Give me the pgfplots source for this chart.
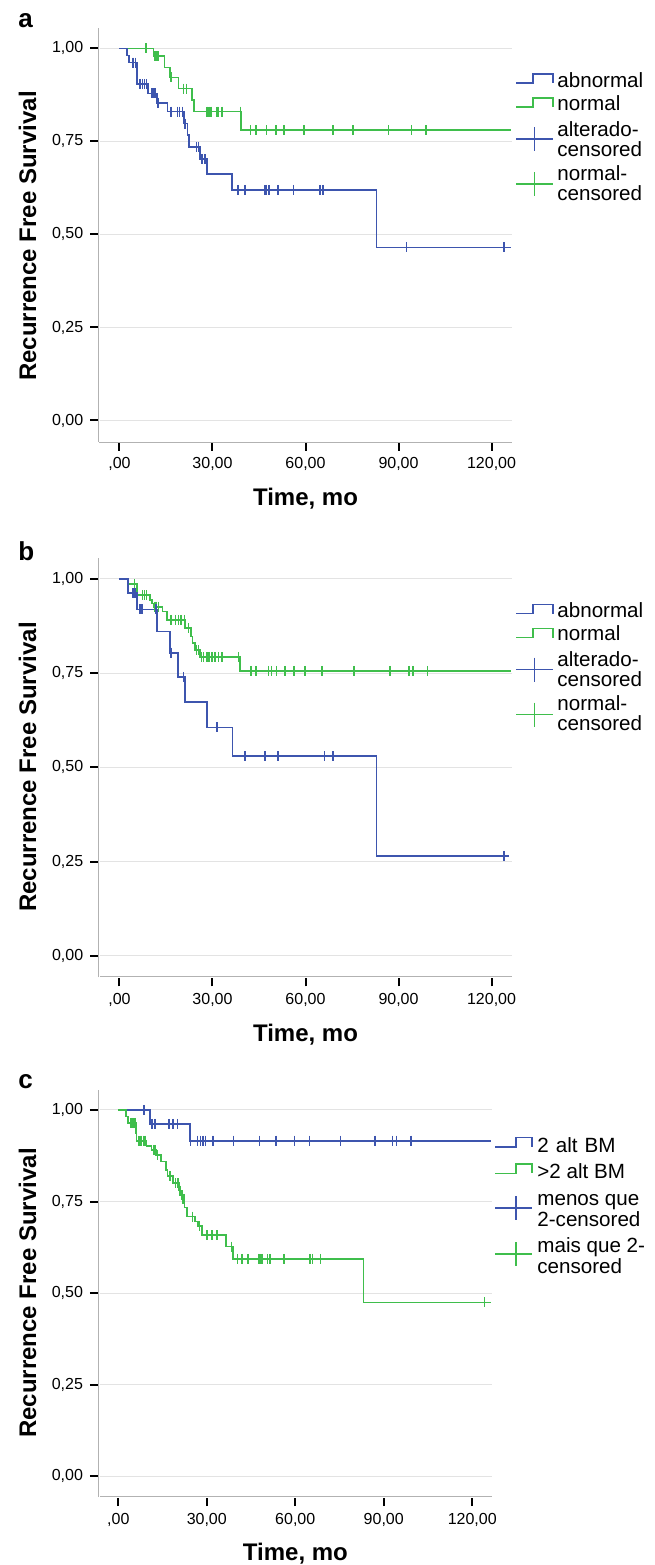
\documentclass[border=0pt]{standalone}
\usepackage{fontspec}
\setmainfont{Liberation Sans}
\usepackage{pgfplots}
\pgfplotsset{compat=1.18}
\definecolor{kmblue}{HTML}{3D55AE}
\definecolor{kmgreen}{HTML}{3FBE4C}
\pgfplotsset{
  km/.style={
    scale only axis, axis lines=left,
    axis line style={-, draw=gray!60, line width=0.3pt, double=white, double distance=0.45pt},
    xmin=-6.5, xmax=126.5, ymin=-0.057, ymax=1.055,
    xtick={0,30,60,90,120}, xticklabels={{,00},{30,00},{60,00},{90,00},{120,00}},
    ytick={0,0.25,0.5,0.75,1}, yticklabels={{0,00},{0,25},{0,50},{0,75},{1,00}},
    tick align=outside, major tick length=4.5pt,
    tick style={black, line width=1pt},
    ymajorgrids, grid style={gray!22, line width=0.5pt},
    tick label style={font=\fontsize{8}{9}\selectfont},
    clip=false,
  },
  surv/.style={const plot, line width=0.85pt, no marks},
  cens/.style={only marks, mark=|, mark size=2.5pt, mark options={line width=0.75pt}},
}
\newcommand\legfont{\fontsize{10.3}{12}\selectfont}
\newcommand\labfont{\bfseries\fontsize{12}{14}\selectfont}

\begin{document}
\begin{tikzpicture}
\useasboundingbox (0,0) rectangle (327pt,-782.5pt);

% ---------- panel a ----------
\begin{axis}[km, at={(49.65pt,-220.85pt)}, anchor=south west, width=206.2pt, height=206.9pt]
  \addplot[surv, kmgreen] coordinates {(0,1) (11.0,0.979) (14.5,0.949) (16.3,0.922) (19.0,0.892)
    (23.5,0.861) (24.1,0.830) (39.1,0.780) (126.4,0.780)};
  \addplot[cens, kmgreen] coordinates {(8.6,1) (11.5,0.979) (12.1,0.979) (12.6,0.979) (16.7,0.922)
    (20.6,0.892) (21.7,0.892) (28.2,0.830) (28.9,0.830) (29.5,0.830) (31.4,0.830) (31.9,0.830)
    (33.1,0.830) (39.1,0.830) (42.3,0.780) (44.1,0.780) (47.5,0.780) (50.5,0.780) (53.1,0.780)
    (59.5,0.780) (68.8,0.780) (75.1,0.780) (75.4,0.780) (86.7,0.780) (94.2,0.780) (98.8,0.780)};
  \addplot[surv, kmblue] coordinates {(0,1) (2.4,0.981) (3.0,0.962) (5.6,0.904) (9.2,0.879)
    (12.0,0.854) (15.5,0.830) (20.9,0.798) (21.9,0.767) (22.5,0.7355) (26.0,0.702) (28.2,0.662)
    (36.4,0.620) (82.9,0.465) (126.4,0.465)};
  \addplot[cens, kmblue] coordinates {(4.2,0.962) (4.6,0.962) (5.1,0.962) (6.7,0.904) (7.4,0.904)
    (8.1,0.904) (8.8,0.904) (10.5,0.879) (11.0,0.879) (11.5,0.879) (12.5,0.854) (16.7,0.830)
    (18.7,0.830) (19.4,0.830) (20.4,0.830) (21.2,0.798) (24.8,0.7355) (25.5,0.7355) (26.6,0.702)
    (27.6,0.702) (38.2,0.620) (40.5,0.620) (47.0,0.620) (47.5,0.620) (48.2,0.620) (51.2,0.620)
    (56.2,0.620) (64.7,0.620) (65.7,0.620) (92.6,0.465) (124.0,0.465)};
\end{axis}

% ---------- panel b ----------
\begin{axis}[km, at={(49.65pt,-488.65pt)}, anchor=south west, width=206.2pt, height=209.6pt]
  \addplot[surv, kmgreen] coordinates {(0,1) (2.7,0.986) (5.6,0.957) (9.9,0.944) (10.4,0.935)
    (11.0,0.926) (13.9,0.913) (15.3,0.891) (21.2,0.869) (23.1,0.847) (23.6,0.829) (24.4,0.811)
    (26.0,0.792) (38.9,0.756) (126.4,0.756)};
  \addplot[cens, kmgreen] coordinates {(4.8,0.986) (7.4,0.957) (8.1,0.957) (8.8,0.957)
    (11.5,0.926) (12.0,0.926) (12.6,0.926) (16.6,0.891) (18.0,0.891) (19.0,0.891) (19.9,0.891)
    (20.9,0.891) (22.2,0.869) (24.9,0.811) (25.5,0.811) (26.5,0.792) (27.1,0.792) (28.2,0.792)
    (28.9,0.792) (29.8,0.792) (30.8,0.792) (31.9,0.792) (33.0,0.792) (38.4,0.792)
    (42.5,0.756) (44.0,0.756) (48.0,0.756) (49.0,0.756) (50.7,0.756) (53.4,0.756) (56.3,0.756)
    (59.8,0.756) (65.3,0.756) (75.7,0.756) (87.2,0.756) (93.3,0.756) (94.6,0.756) (99.4,0.756)};
  \addplot[surv, kmblue] coordinates {(0,1) (2.7,0.962) (5.6,0.919) (12.0,0.860) (16.3,0.804)
    (18.8,0.740) (21.2,0.674) (28.2,0.606) (36.5,0.530) (82.9,0.265) (125.7,0.265)};
  \addplot[cens, kmblue] coordinates {(4.4,0.962) (5.0,0.962) (6.7,0.919) (7.2,0.919)
    (11.8,0.919) (16.7,0.804) (20.6,0.740) (31.4,0.606) (40.5,0.530) (47.0,0.530) (51.2,0.530)
    (66.1,0.530) (68.8,0.530) (124.0,0.265)};
\end{axis}

% ---------- panel c ----------
\begin{axis}[km, at={(49.5pt,-748.5pt)}, anchor=south west, width=196.35pt, height=203.6pt,
  xmin=-6.54, xmax=126.6]
  \addplot[surv, kmblue] coordinates {(0,1) (10.7,0.962) (24.3,0.916) (126.5,0.916)};
  \addplot[cens, kmblue] coordinates {(8.7,1) (11.4,0.962) (12.2,0.962) (12.6,0.962)
    (17.2,0.962) (18.5,0.962) (20.1,0.962) (24.5,0.916) (26.8,0.916) (27.8,0.916) (28.7,0.916)
    (29.6,0.916) (31.9,0.916) (32.3,0.916) (39.0,0.916) (47.8,0.916) (53.4,0.916) (59.8,0.916)
    (64.8,0.916) (75.3,0.916) (87.0,0.916) (93.0,0.916) (94.3,0.916) (99.2,0.916)};
  \addplot[surv, kmgreen] coordinates {(0,1) (2.5,0.982) (3.2,0.965) (5.9,0.936) (6.2,0.916)
    (9.6,0.902) (11.3,0.891) (12.8,0.877) (14.5,0.859) (16.1,0.836) (16.7,0.820) (18.6,0.800)
    (20.6,0.780) (21.5,0.756) (22.4,0.734) (23.2,0.709) (26.0,0.695) (27.1,0.683) (28.3,0.658)
    (36.4,0.627) (39.0,0.593) (83.1,0.4745) (126.5,0.4745)};
  \addplot[cens, kmgreen] coordinates {(4.3,0.965) (4.7,0.965) (5.2,0.965) (5.7,0.965)
    (6.8,0.916) (7.4,0.916) (7.9,0.916) (8.5,0.916) (9.1,0.916) (11.9,0.891) (12.4,0.891)
    (13.3,0.877) (17.5,0.820) (19.4,0.800) (20.2,0.800) (21.0,0.780) (21.8,0.756) (22.2,0.756)
    (25.2,0.709) (27.6,0.683) (30.0,0.658) (31.7,0.658) (33.4,0.658) (38.4,0.627)
    (40.5,0.593) (42.0,0.593) (43.9,0.593) (47.5,0.593) (48.0,0.593) (48.7,0.593) (50.6,0.593)
    (51.4,0.593) (56.2,0.593) (65.0,0.593) (65.9,0.593) (68.6,0.593) (124.1,0.4745)};
\end{axis}

% ---------- labels and legends (pixel units) ----------
\begin{scope}[x=0.5pt, y=-0.5pt]
  \node[font=\bfseries\fontsize{13}{13}\selectfont, anchor=base west, inner sep=0pt] at (18,27) {a};
  \node[font=\bfseries\fontsize{13}{13}\selectfont, anchor=base west, inner sep=0pt] at (18,560) {b};
  \node[font=\bfseries\fontsize{13}{13}\selectfont, anchor=base west, inner sep=0pt] at (18,1088) {c};

  \node[font=\labfont, anchor=base, inner sep=0pt] at (305.5,505) {Time, mo};
  \node[font=\labfont, anchor=base, inner sep=0pt] at (305.5,1041) {Time, mo};
  \node[font=\labfont, anchor=base, inner sep=0pt] at (295.4,1560) {Time, mo};

  \node[font=\labfont, anchor=base, rotate=90, inner sep=0pt] at (36,236) {Recurrence Free Survival};
  \node[font=\labfont, anchor=base, rotate=90, inner sep=0pt] at (36,767) {Recurrence Free Survival};
  \node[font=\labfont, anchor=base, rotate=90, inner sep=0pt] at (36,1293) {Recurrence Free Survival};

  \foreach \dy in {0,530.5} {
    \begin{scope}[yshift=-\dy*0.5pt]
      \draw[kmblue, line width=0.8pt] (516,83)--(533,83)--(533,74)--(553,74)--(553,83);
      \node[font=\legfont, anchor=base west, inner sep=0pt] at (557,87) {abnormal};
      \draw[kmgreen, line width=0.8pt] (516,107)--(533,107)--(533,98)--(553,98)--(553,107);
      \node[font=\legfont, anchor=base west, inner sep=0pt] at (557,110) {normal};
      \draw[kmblue, line width=0.8pt] (516,139)--(553,139) (534.5,127)--(534.5,151);
      \node[font=\legfont, anchor=base west, inner sep=0pt] at (557,136) {alterado-};
      \node[font=\legfont, anchor=base west, inner sep=0pt] at (557,156) {censored};
      \draw[kmgreen, line width=0.8pt] (516,184)--(553,184) (534.5,172)--(534.5,196);
      \node[font=\legfont, anchor=base west, inner sep=0pt] at (557,180) {normal-};
      \node[font=\legfont, anchor=base west, inner sep=0pt] at (557,200) {censored};
    \end{scope}
  }

  \draw[kmblue, line width=0.8pt] (495,1146.7)--(516,1146.7)--(516,1137.3)--(532,1137.3)--(532,1146.7);
  \node[font=\legfont, anchor=base west, inner sep=0pt] at (537,1152) {2\hspace{3.5pt}alt\hspace{3.5pt}BM};
  \draw[kmgreen, line width=0.8pt] (495,1173.3)--(516,1173.3)--(516,1164)--(532,1164)--(532,1173.3);
  \node[font=\legfont, anchor=base west, inner sep=0pt] at (537,1178.5) {>2 alt BM};
  \draw[kmblue, line width=0.8pt] (495,1208)--(532,1208) (516,1196)--(516,1220);
  \node[font=\legfont, anchor=base west, inner sep=0pt] at (537,1205) {menos que};
  \node[font=\legfont, anchor=base west, inner sep=0pt] at (537,1226) {2-censored};
  \draw[kmgreen, line width=0.8pt] (495,1254)--(532,1254) (516,1242)--(516,1266);
  \node[font=\legfont, anchor=base west, inner sep=0pt] at (537,1252) {mais que 2-};
  \node[font=\legfont, anchor=base west, inner sep=0pt] at (537,1273) {censored};
\end{scope}
\end{tikzpicture}
\end{document}
